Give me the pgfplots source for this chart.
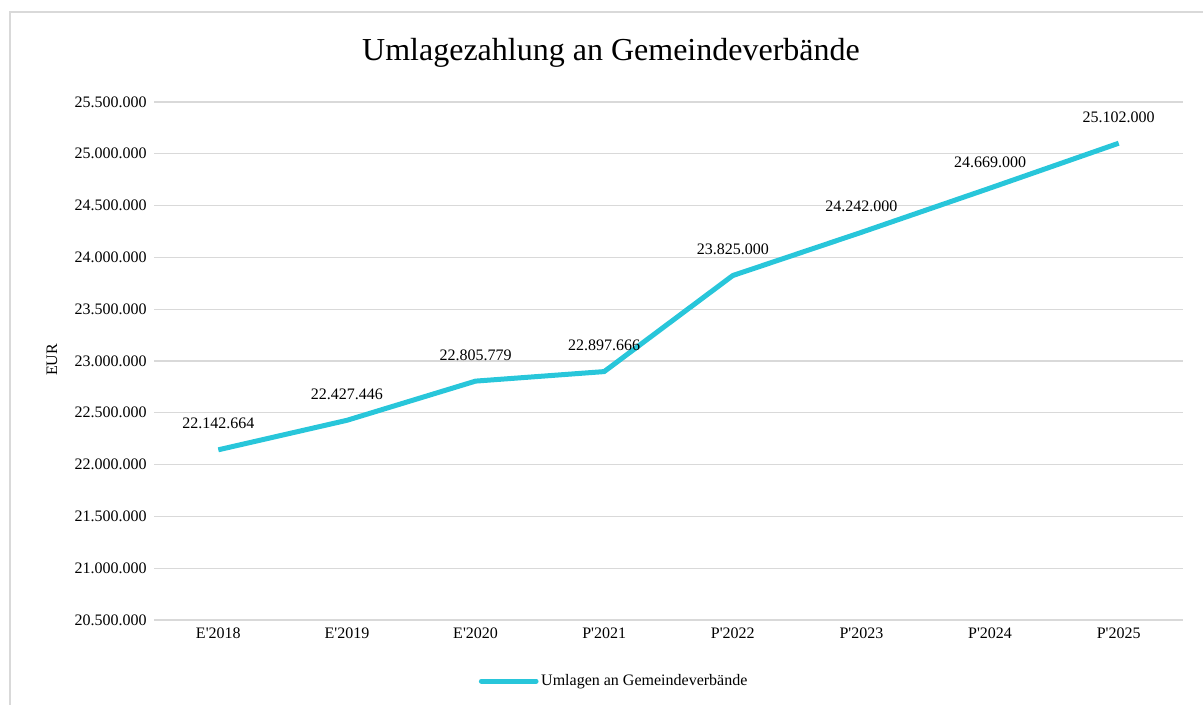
\documentclass[border=0pt]{standalone}
\usepackage{fontspec}
\setmainfont{Liberation Serif}
\usepackage{pgfplots}
\usepackage{pgfplotstable}
\pgfplotsset{compat=1.18}
\definecolor{linecyan}{HTML}{28C6DA}
\definecolor{gridgray}{HTML}{D9D9D9}
\pgfplotstableread{
x y label
0 22142664 22.142.664
1 22427446 22.427.446
2 22805779 22.805.779
3 22897666 22.897.666
4 23825000 23.825.000
5 24242000 24.242.000
6 24669000 24.669.000
7 25102000 25.102.000
}\datatable
\begin{document}
\begin{tikzpicture}
\path[use as bounding box] (0,0) rectangle (902.25pt,528.75pt);
\draw[gridgray, line width=1.5pt] (7.5pt,-1pt) -- (7.5pt,520.1pt) -- (903pt,520.1pt);
\node[font=\fontsize{24}{28}\selectfont] at (458.25pt,489pt) {Umlagezahlung an Gemeindeverbände};
\node[font=\fontsize{12}{14}\selectfont, rotate=90] at (39pt,258.75pt) {EUR};
\begin{axis}[
  at={(115.5pt,63.75pt)}, anchor=south west,
  scale only axis, width=771.75pt, height=388.5pt,
  xmin=-0.5, xmax=7.5, ymin=20500000, ymax=25500000,
  xtick={0,...,7},
  xticklabels={E\textquotesingle2018,E\textquotesingle2019,E\textquotesingle2020,P\textquotesingle2021,P\textquotesingle2022,P\textquotesingle2023,P\textquotesingle2024,P\textquotesingle2025},
  ytick={20500000,21000000,21500000,22000000,22500000,23000000,23500000,24000000,24500000,25000000,25500000},
  yticklabels={20.500.000,21.000.000,21.500.000,22.000.000,22.500.000,23.000.000,23.500.000,24.000.000,24.500.000,25.000.000,25.500.000},
  scaled y ticks=false,
  axis line style={draw=none},
  major tick length=0pt,
  ymajorgrids, grid style={gridgray, line width=1pt},
  tick label style={font=\fontsize{12}{14}\selectfont, black},
  yticklabel style={xshift=-2pt},
  xticklabel style={yshift=-2pt},
  clip=false,
  legend style={at={(0.4475,-0.118)}, anchor=center, draw=none, fill=none,
    font=\fontsize{12}{14}\selectfont, inner sep=0pt},
  legend image code/.code={\draw[#1, line cap=round] (0pt,0pt) -- (41pt,0pt);},
]
\addplot[linecyan, line width=3.75pt, line join=round,
  nodes near coords, point meta=explicit symbolic,
  every node near coord/.append style={font=\fontsize{12}{14}\selectfont, black, anchor=center, yshift=19.5pt}]
  table[x=x, y=y, meta=label] {\datatable};
\addlegendentry{Umlagen an Gemeindeverbände}
\end{axis}
\end{tikzpicture}
\end{document}
